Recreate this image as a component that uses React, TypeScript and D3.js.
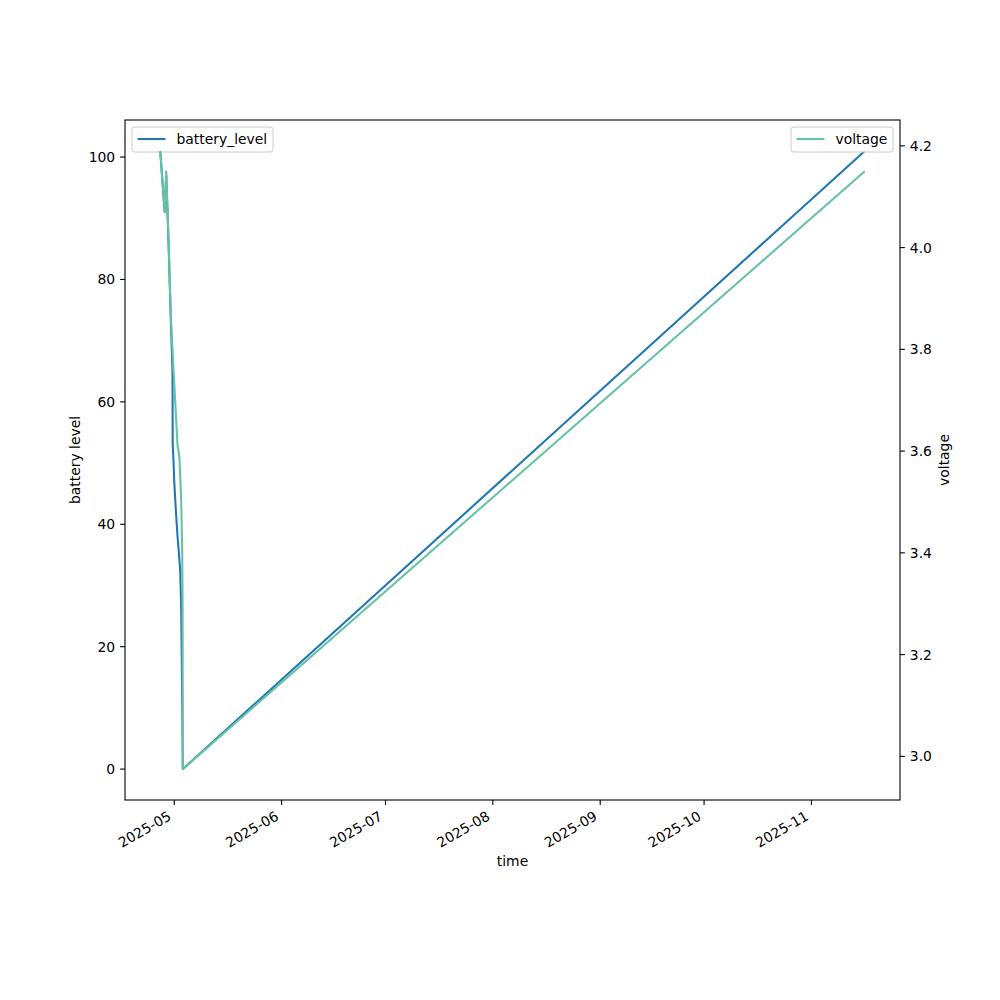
import React from "react";
import * as d3 from "d3";

// readings (local time), battery in %, voltage in V
const times = [
  "2025-04-26T23:00", "2025-04-28T06:00", "2025-04-28T16:30", "2025-04-29T08:30",
  "2025-04-30T01:00", "2025-04-30T12:00", "2025-04-30T13:30", "2025-04-30T19:00",
  "2025-05-01T00:00", "2025-05-01T12:00", "2025-05-01T23:00", "2025-05-02T06:00",
  "2025-05-02T12:30", "2025-05-02T17:30", "2025-05-03T00:30", "2025-05-03T07:30",
  "2025-05-03T10:00", "2025-05-03T11:30", "2025-11-16T09:30",
];
const batteryLevel = [
  101, 91, 97, 86, 73, 65, 53, 50.5, 47, 42, 38, 36, 34, 32.5, 26, 11, 5, 0, 101,
];
const voltage = [
  4.19, 4.07, 4.15, 4.02, 3.86, 3.80, 3.79, 3.76, 3.735, 3.67, 3.61, 3.60,
  3.585, 3.55, 3.50, 3.40, 3.29, 2.975, 4.15,
];

const monthTicks = ["2025-05-01", "2025-06-01", "2025-07-01", "2025-08-01", "2025-09-01", "2025-10-01", "2025-11-01"];
const batteryTicks = [0, 20, 40, 60, 80, 100];
const voltageTicks = [3.0, 3.2, 3.4, 3.6, 3.8, 4.0, 4.2];

const parseTime = d3.timeParse("%Y-%m-%dT%H:%M");
const parseDay = d3.timeParse("%Y-%m-%d");
const fmtMonth = d3.timeFormat("%Y-%m");

const margin = { left: 125, right: 900, top: 120, bottom: 800 };
const fontSize = 13.9;
const blue = "#1f77b4";
const green = "#66c2a5";

// matplotlib-style 5% padding
function pad(ext) {
  const r = ext[1] - ext[0];
  return [ext[0] - 0.05 * r, ext[1] + 0.05 * r];
}

const Legend = ({ x, y, width, color, label }) => (
  <g transform={`translate(${x},${y})`}>
    <rect width={width} height={25} rx={2.8} fill="white" fillOpacity={0.8} stroke="#cccccc" strokeWidth={1} />
    <line x1={5.6} x2={33.4} y1={12} y2={12} stroke={color} strokeWidth={2.08} />
    <text x={44.5} y={12} dominantBaseline="central" fontSize={fontSize}>{label}</text>
  </g>
);

export default function App() {
  const dates = times.map(t => parseTime(t));
  const x = d3.scaleTime()
    .domain(pad(d3.extent(dates, d => +d)).map(v => new Date(v)))
    .range([margin.left, margin.right]);
  const yL = d3.scaleLinear().domain(pad(d3.extent(batteryLevel))).range([margin.bottom, margin.top]);
  const yR = d3.scaleLinear().domain(pad(d3.extent(voltage))).range([margin.bottom, margin.top]);

  const batteryLine = d3.line().x((d, i) => x(dates[i])).y(d => yL(d));
  const voltageLine = d3.line().x((d, i) => x(dates[i])).y(d => yR(d));

  const midY = (margin.top + margin.bottom) / 2;

  return (
    <svg width={1000} height={1000} style={{ position: "absolute", left: 0, top: 0 }}
      fontFamily="DejaVu Sans" fill="black">
      <rect width={1000} height={1000} fill="white" />

      <path d={batteryLine(batteryLevel)} fill="none" stroke={blue} strokeWidth={2.08} strokeLinejoin="round" />
      <Legend x={132} y={127} width={141} color={blue} label="battery_level" />

      <path d={voltageLine(voltage)} fill="none" stroke={green} strokeWidth={2.08} strokeLinejoin="round" />
      <Legend x={791} y={127} width={102} color={green} label="voltage" />

      {/* frame */}
      <rect x={margin.left} y={margin.top} width={margin.right - margin.left} height={margin.bottom - margin.top}
        fill="none" stroke="black" strokeWidth={1.1} />

      {/* x axis */}
      {monthTicks.map(m => {
        const d = parseDay(m);
        const px = x(d);
        return (
          <g key={m}>
            <line x1={px} x2={px} y1={margin.bottom} y2={margin.bottom + 4.9} stroke="black" strokeWidth={1.1} />
            <text transform={`translate(${px - 2},${margin.bottom + 19}) rotate(-30)`} textAnchor="end" fontSize={fontSize}>
              {fmtMonth(d)}
            </text>
          </g>
        );
      })}
      <text x={(margin.left + margin.right) / 2} y={866} textAnchor="middle" fontSize={fontSize}>time</text>

      {/* left axis */}
      {batteryTicks.map(t => (
        <g key={t}>
          <line x1={margin.left - 4.9} x2={margin.left} y1={yL(t)} y2={yL(t)} stroke="black" strokeWidth={1.1} />
          <text x={margin.left - 9.8} y={yL(t)} textAnchor="end" dominantBaseline="central" fontSize={fontSize}>{t}</text>
        </g>
      ))}
      <text transform={`translate(75,${midY}) rotate(-90)`} textAnchor="middle" dominantBaseline="central" fontSize={fontSize}>
        battery level
      </text>

      {/* right axis */}
      {voltageTicks.map(t => (
        <g key={t}>
          <line x1={margin.right} x2={margin.right + 4.9} y1={yR(t)} y2={yR(t)} stroke="black" strokeWidth={1.1} />
          <text x={margin.right + 9.8} y={yR(t)} dominantBaseline="central" fontSize={fontSize}>{t.toFixed(1)}</text>
        </g>
      ))}
      <text transform={`translate(944,${midY}) rotate(-90)`} textAnchor="middle" dominantBaseline="central" fontSize={fontSize}>
        voltage
      </text>
    </svg>
  );
}
